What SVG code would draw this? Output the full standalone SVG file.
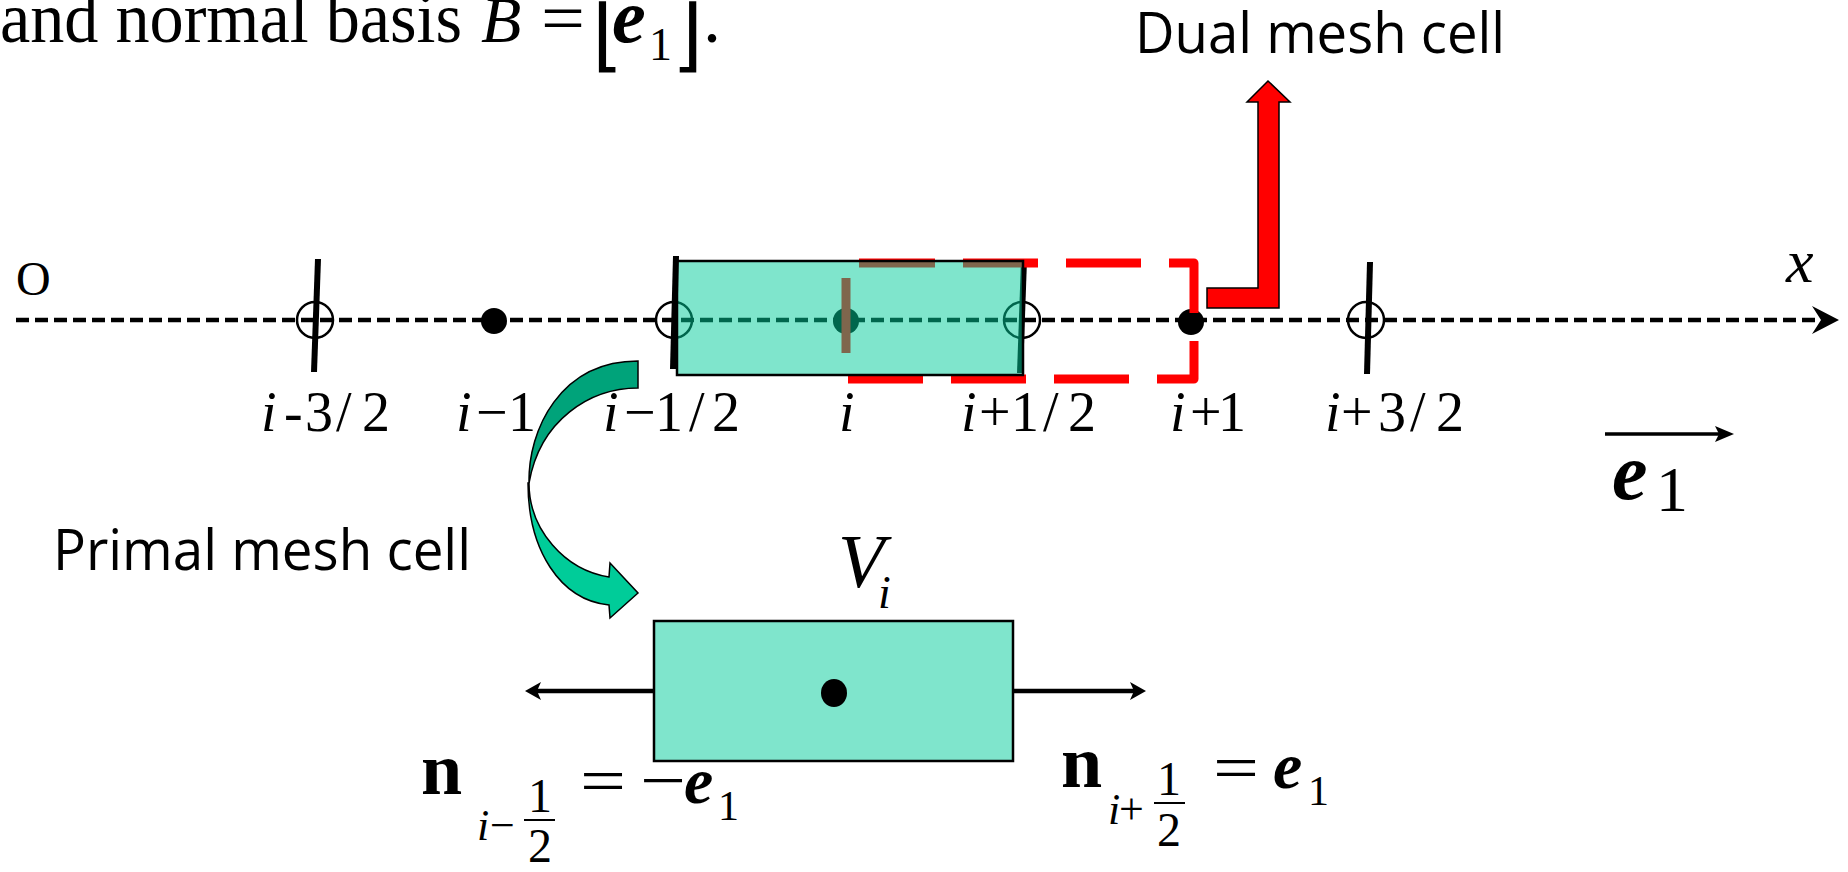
<svg xmlns="http://www.w3.org/2000/svg" width="1848" height="872" viewBox="0 0 1848 872">
<style>
.serif{font-family:"Liberation Serif","Times New Roman",serif;fill:#000}
.sans{font-family:"Open Sans","Liberation Sans",sans-serif;fill:#000}
.brk{font-family:"DejaVu Sans","DejaVu Serif",sans-serif;fill:#000}
.it{font-style:italic}
.bf{font-weight:bold}
.lbl{font-size:56px}
.tick{stroke:#000;stroke-width:6;stroke-linecap:butt}
.ring{fill:none;stroke:#000;stroke-width:2.5}
.dot{fill:#000}
.teal{fill:#00CC99;fill-opacity:0.5;stroke:#000;stroke-width:2.5}
.nline{stroke:#000;stroke-width:4.5}
</style>
<rect width="1848" height="872" fill="#fff"/>

<!-- title -->
<g id="title">
  <text class="serif" x="0" y="42" font-size="72" textLength="462" lengthAdjust="spacingAndGlyphs">and normal basis</text>
  <text class="serif it" x="481" y="42" font-size="66">B</text>
  <text class="serif" x="541" y="42" font-size="70" textLength="44" lengthAdjust="spacingAndGlyphs">=</text>
  <text class="brk" x="592" y="62" font-size="80">⌊</text>
  <text class="serif it bf" x="612" y="42" font-size="76">e</text>
  <text class="serif" x="649" y="60" font-size="46">1</text>
  <text class="brk" x="672" y="62" font-size="80">⌋</text>
  <text class="serif" x="703" y="42" font-size="72">.</text>
</g>

<!-- connectors / axis -->
<g id="connectors">
  <line x1="16" y1="320" x2="1826" y2="320" stroke="#000" stroke-width="4.5" stroke-dasharray="13 6"/>
  <polygon points="1839,320 1812,306 1821,320 1812,334" fill="#000"/>
  <line x1="1605" y1="434" x2="1722" y2="434" stroke="#000" stroke-width="3.5"/>
  <polygon points="1734,434 1715,426 1719,434 1715,442" fill="#000"/>
</g>

<g id="axis-points">
  <ellipse class="ring" cx="315" cy="320" rx="18" ry="18"/>
  <ellipse class="ring" cx="674" cy="320" rx="18" ry="18"/>
  <ellipse class="ring" cx="1022" cy="320" rx="18" ry="18"/>
  <ellipse class="ring" cx="1366" cy="320" rx="18" ry="18"/>
  <ellipse class="dot" cx="494" cy="321" rx="13" ry="13"/>
  <ellipse class="dot" cx="846" cy="321" rx="13" ry="13"/>
  <ellipse class="dot" cx="1191" cy="322" rx="13" ry="13"/>
  <line class="tick" x1="318" y1="259" x2="314" y2="372"/>
  <line class="tick" x1="1024" y1="260" x2="1020" y2="373"/>
  <line class="tick" x1="1370" y1="262" x2="1367" y2="374"/>
</g>

<!-- dual mesh cell (dashed) -->
<g id="dual-cell">
  <path d="M860,263 H1194 V379 H846 V263 H860" fill="none" stroke="#FF0000" stroke-width="9" stroke-dasharray="75 28" stroke-linejoin="round"/>
</g>

<!-- primal cell on axis -->
<g id="primal-cell-axis">
  <rect class="teal" x="677" y="261" width="346" height="114"/>
  <line class="tick" x1="676" y1="256" x2="673" y2="369"/>
</g>

<!-- red L arrow -->
<g id="dual-arrow">
  <polygon points="1207,288 1258,288 1258,102 1247,102 1268,81 1290,102 1279,102 1279,308 1207,308" fill="#FF0000" stroke="#000" stroke-width="1.5" stroke-linejoin="miter"/>
</g>

<g id="dual-label">
  <text class="sans" x="1135" y="53" font-size="56" textLength="370" lengthAdjust="spacingAndGlyphs">Dual mesh cell</text>
</g>

<g id="axis-labels">
  <text class="serif" x="16" y="295" font-size="48">O</text>
  <text class="serif it" x="1786" y="282" font-size="62">x</text>
  <text class="serif lbl" y="431"><tspan x="261" class="it">i</tspan><tspan x="284">-</tspan><tspan x="305">3</tspan><tspan x="336">/</tspan><tspan x="362">2</tspan></text>
  <text class="serif lbl" y="431"><tspan x="456" class="it">i</tspan><tspan x="476">−</tspan><tspan x="508">1</tspan></text>
  <text class="serif lbl" y="431"><tspan x="603" class="it">i</tspan><tspan x="624">−</tspan><tspan x="655">1</tspan><tspan x="689">/</tspan><tspan x="712">2</tspan></text>
  <text class="serif lbl it" x="839" y="431">i</text>
  <text class="serif lbl" y="431"><tspan x="961" class="it">i</tspan><tspan x="979">+</tspan><tspan x="1011">1</tspan><tspan x="1043">/</tspan><tspan x="1068">2</tspan></text>
  <text class="serif lbl" y="431"><tspan x="1170" class="it">i</tspan><tspan x="1190">+</tspan><tspan x="1218">1</tspan></text>
  <text class="serif lbl" y="431"><tspan x="1325" class="it">i</tspan><tspan x="1341">+</tspan><tspan x="1378">3</tspan><tspan x="1410">/</tspan><tspan x="1436">2</tspan></text>
  <text class="serif it bf" x="1612" y="499" font-size="80">e</text>
  <text class="serif" x="1656" y="511" font-size="64">1</text>
</g>

<!-- curved arrow -->
<g id="curved-arrow" stroke="#000" stroke-width="1.5" stroke-linejoin="miter">
  <path d="M638,361 L638,388 C590,388 540,420 529,483 C528,430 560,361 638,361 Z" fill="#00A37A"/>
  <path d="M529,483 C529,530 565,570 609,577 L610,563 L638,593 L610,618 L609,605 C560,600 528,550 528,483 Z" fill="#00CC99"/>
</g>

<g id="primal-label">
  <text class="sans" x="53" y="570" font-size="56" textLength="418" lengthAdjust="spacingAndGlyphs">Primal mesh cell</text>
</g>

<!-- primal cell detail -->
<g id="primal-cell">
  <rect class="teal" x="654" y="621" width="359" height="140"/>
  <ellipse class="dot" cx="834" cy="693" rx="13" ry="14"/>
</g>
<g id="normals">
  <line class="nline" x1="654" y1="691" x2="536" y2="691"/>
  <polygon points="525,691 541,682 537,691 541,700" fill="#000"/>
  <line class="nline" x1="1013" y1="691" x2="1134" y2="691"/>
  <polygon points="1146,691 1130,682 1134,691 1130,700" fill="#000"/>
</g>

<g id="vi-label">
  <text class="serif it" x="838" y="587" font-size="76">V</text>
  <text class="serif it" x="878" y="608" font-size="46">i</text>
</g>

<g id="n-left">
  <text class="serif bf" x="421" y="794" font-size="74">n</text>
  <text class="serif it" x="477" y="840" font-size="44">i</text>
  <text class="serif" x="490" y="840" font-size="44">−</text>
  <text class="serif" x="540" y="812" font-size="48" text-anchor="middle">1</text>
  <line x1="524" y1="820" x2="555" y2="820" stroke="#000" stroke-width="2"/>
  <text class="serif" x="540" y="862" font-size="48" text-anchor="middle">2</text>
  <text class="serif" x="580" y="802" font-size="64" textLength="46" lengthAdjust="spacingAndGlyphs">=</text>
  <text class="serif" x="640" y="802" font-size="64" textLength="46" lengthAdjust="spacingAndGlyphs">−</text>
  <text class="serif it bf" x="684" y="803" font-size="66">e</text>
  <text class="serif" x="718" y="820" font-size="42">1</text>
</g>

<g id="n-right">
  <text class="serif bf" x="1061" y="787" font-size="74">n</text>
  <text class="serif it" x="1108" y="824" font-size="44">i</text>
  <text class="serif" x="1119" y="824" font-size="44">+</text>
  <text class="serif" x="1169" y="795" font-size="48" text-anchor="middle">1</text>
  <line x1="1154" y1="803" x2="1185" y2="803" stroke="#000" stroke-width="2"/>
  <text class="serif" x="1169" y="846" font-size="48" text-anchor="middle">2</text>
  <text class="serif" x="1213" y="789" font-size="64" textLength="46" lengthAdjust="spacingAndGlyphs">=</text>
  <text class="serif it bf" x="1273" y="788" font-size="66">e</text>
  <text class="serif" x="1308" y="805" font-size="42">1</text>
</g>
</svg>
